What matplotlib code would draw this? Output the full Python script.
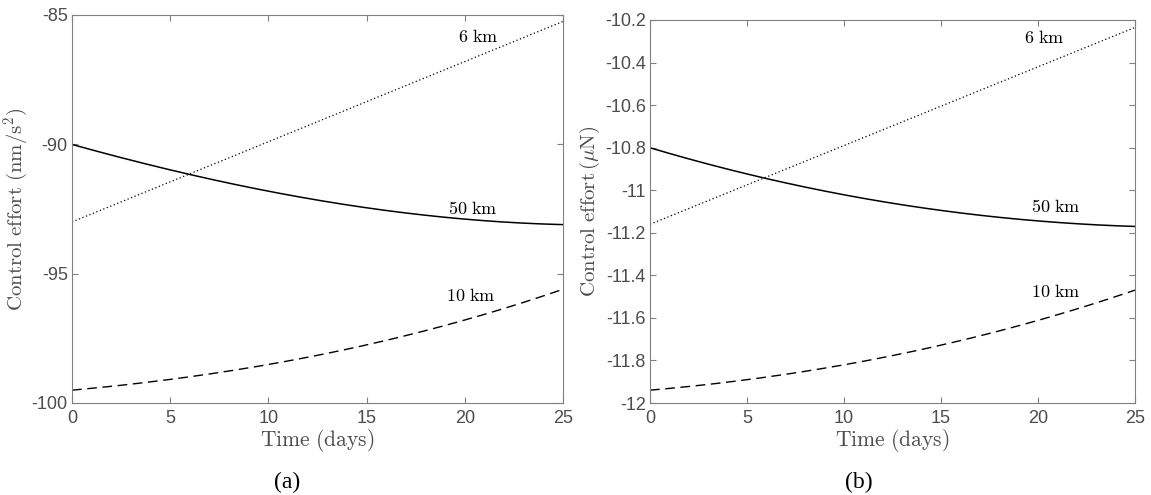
import matplotlib
matplotlib.use("Agg")
import matplotlib.pyplot as plt
import numpy as np

plt.rcParams['mathtext.fontset'] = 'cm'

# Data
t = [0, 5, 10, 15, 20, 25]
a_6km = [-93.0, -91.45, -89.9, -88.35, -86.8, -85.25]
a_50km = [-90.0, -91.0, -91.8, -92.45, -92.9, -93.1]
a_10km = [-99.5, -99.1, -98.5, -97.75, -96.8, -95.6]

b_6km = [-11.16, -10.975, -10.79, -10.605, -10.42, -10.235]
b_50km = [-10.8, -10.925, -11.02, -11.095, -11.145, -11.17]
b_10km = [-11.94, -11.89, -11.82, -11.73, -11.61, -11.47]

a_yticks = [-100, -95, -90, -85]
b_yticks = [-12, -11.8, -11.6, -11.4, -11.2, -11, -10.8, -10.6, -10.4, -10.2]
xticks = [0, 5, 10, 15, 20, 25]

gray = '#4d4d4d'
boxc = '#808080'

fig = plt.figure(figsize=(11.51, 4.95), dpi=100)
axA = fig.add_axes([72/1151, 1-403/495, 491/1151, 388/495])
axB = fig.add_axes([650/1151, 1-403/495, 485/1151, 383/495])

def smooth(x, y):
    xs = np.linspace(x[0], x[-1], 200)
    c = np.polyfit(x, y, 3)
    return xs, np.polyval(c, xs)

def style(ax, yticks, ylim, ylabel, yfmt, ylab_x):
    ax.set_xlim(0, 25)
    ax.set_ylim(*ylim)
    ax.set_xticks(xticks)
    ax.set_yticks(yticks)
    ax.set_xticklabels([str(v) for v in xticks])
    ax.set_yticklabels([yfmt(v) for v in yticks])
    for s in ax.spines.values():
        s.set_color(boxc)
        s.set_linewidth(0.8)
    ax.tick_params(direction='in', top=True, right=True, color=boxc,
                   labelcolor=gray, labelsize=13, length=4)
    ax.tick_params(axis='x', pad=5)
    ax.tick_params(axis='y', pad=3)
    for lbl in ax.get_xticklabels() + ax.get_yticklabels():
        lbl.set_family('Liberation Sans')
    ax.set_xlabel(r'$\mathrm{Time\ (days)}$', fontsize=15.5, color=gray, labelpad=0)
    ax.set_ylabel(ylabel, fontsize=15, color=gray)
    ax.yaxis.set_label_coords(ylab_x, 0.5)

for ax, d6, d50, d10 in [(axA, a_6km, a_50km, a_10km), (axB, b_6km, b_50km, b_10km)]:
    x, y = smooth(t, d6)
    ax.plot(x, y, color='black', linestyle=(0, (1, 2)), linewidth=0.9)
    x, y = smooth(t, d50)
    ax.plot(x, y, color='black', linestyle='-', linewidth=1.1)
    x, y = smooth(t, d10)
    ax.plot(x, y, color='black', linestyle=(0, (7, 4)), linewidth=1.0)

style(axA, a_yticks, (-100, -85), r'$\mathrm{Control\ effort\ (nm/s^2)}$',
      lambda v: f'{v:g}', -0.085)
style(axB, b_yticks, (-12, -10.2), r'$\mathrm{Control\ effort\,(\mu N)}$',
      lambda v: f'{v:g}', -0.10)

kw = dict(fontsize=13, color='black', ha='center', va='center')
axA.text(20.7, -85.85, r'$\mathrm{6\ km}$', **kw)
axA.text(20.4, -92.5, r'$\mathrm{50\ km}$', **kw)
axA.text(20.3, -95.85, r'$\mathrm{10\ km}$', **kw)
axB.text(20.3, -10.285, r'$\mathrm{6\ km}$', **kw)
axB.text(20.9, -11.08, r'$\mathrm{50\ km}$', **kw)
axB.text(20.9, -11.48, r'$\mathrm{10\ km}$', **kw)

fig.text(287/1151, 1-482/495, '(a)', fontsize=17, family='Liberation Serif',
         ha='center', va='center')
fig.text(859/1151, 1-482/495, '(b)', fontsize=17, family='Liberation Serif',
         ha='center', va='center')

fig.savefig('out.png', dpi=100)
